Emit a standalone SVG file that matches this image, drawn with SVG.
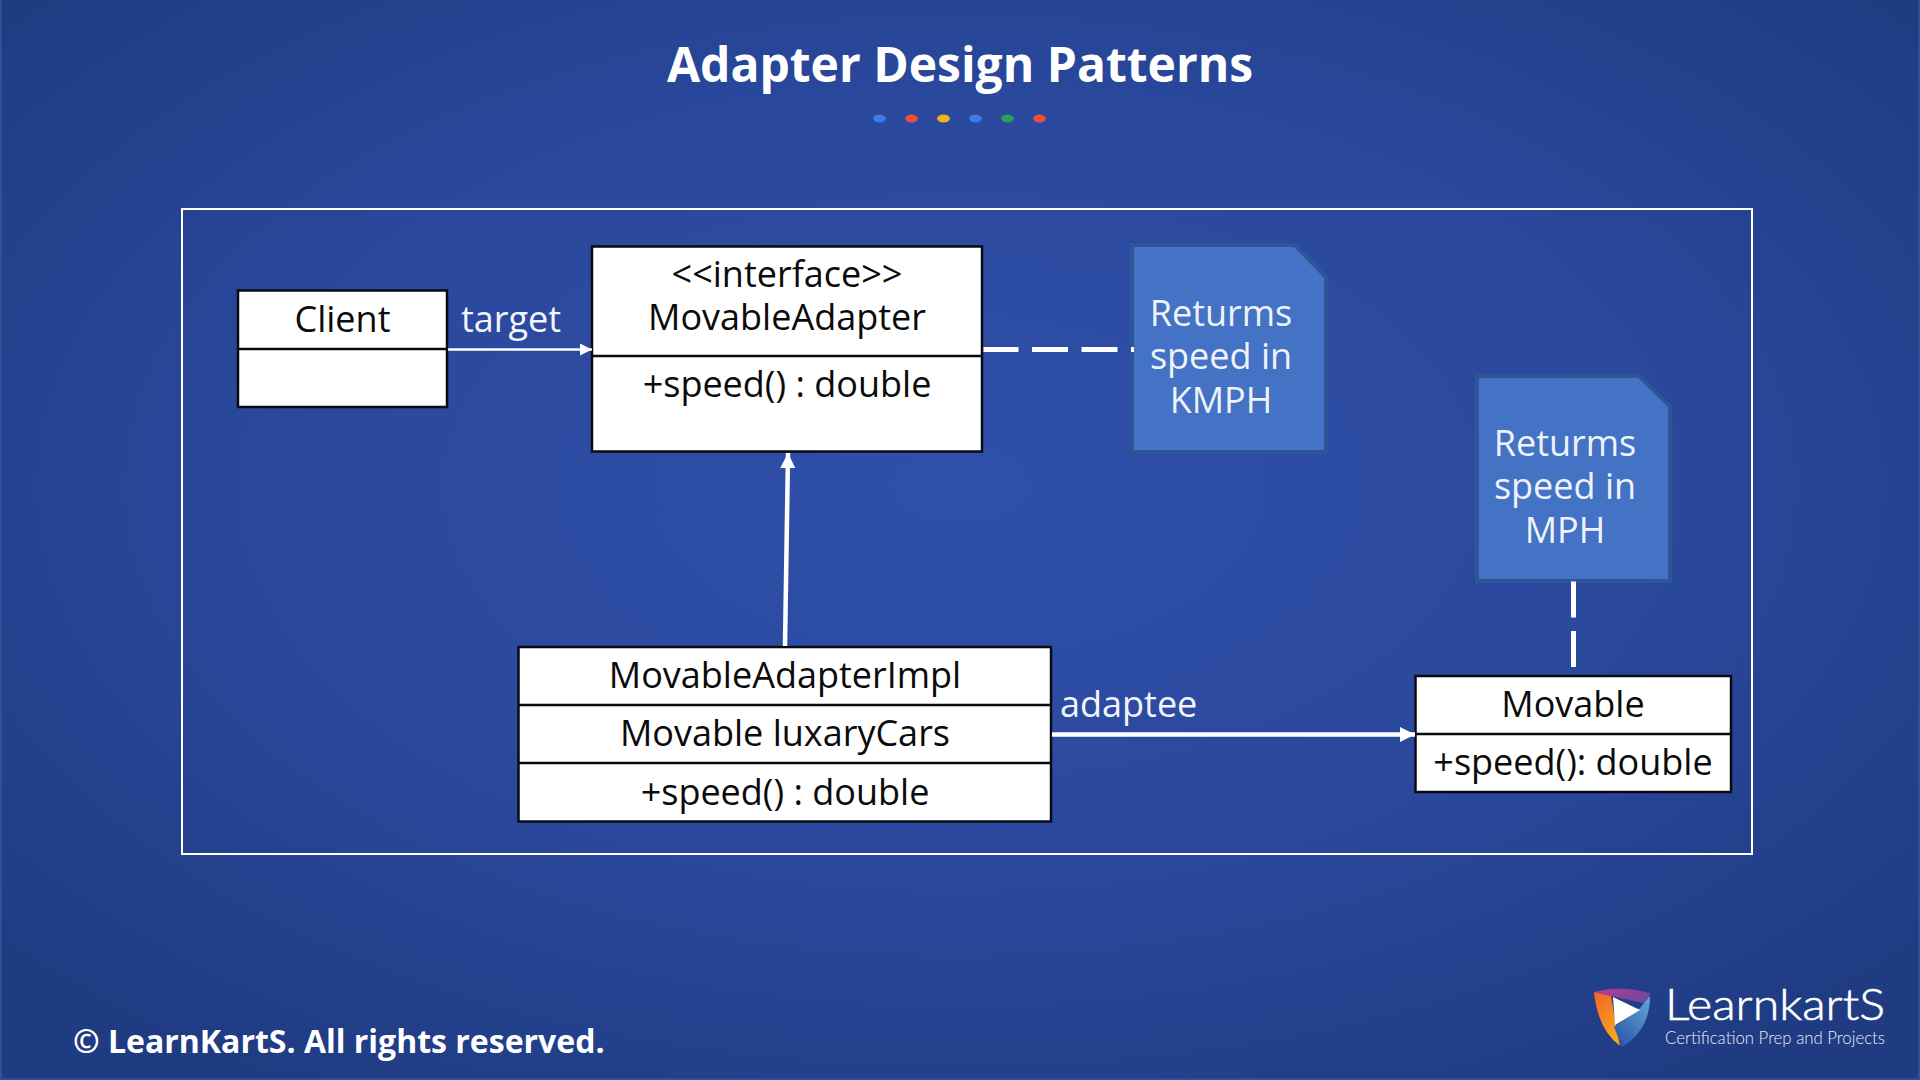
<svg xmlns="http://www.w3.org/2000/svg" width="1920" height="1080" viewBox="0 0 1920 1080">
<style>
text{font-family:"Open Sans","Noto Sans",sans-serif}
.b{fill:#fff;stroke:#0a0a14;stroke-width:2.5}
.d{stroke:#0a0a14;stroke-width:2.5;fill:none}
.t{font-size:36px;fill:#0b0b0b;text-anchor:middle}
.w{font-size:36px;fill:#f2f6fc}
.n{fill:#4472c4;stroke:#2f5597;stroke-width:4}
.m{font-size:36px;fill:#eef3fb;text-anchor:middle}
.c{stroke:#fff;fill:none}
</style>
<defs>
<radialGradient id="bg" cx="50%" cy="45%" r="66%"><stop offset="0" stop-color="#2f4fa9"/><stop offset="0.55" stop-color="#2a489c"/><stop offset="1" stop-color="#1f3b82"/></radialGradient>
<marker id="a1" markerUnits="userSpaceOnUse" markerWidth="12" markerHeight="12" refX="12" refY="6" orient="auto"><path d="M0 0L12 6L0 12z" fill="#fff"/></marker>
<marker id="a2" markerUnits="userSpaceOnUse" markerWidth="15" markerHeight="15" refX="15" refY="7.5" orient="auto"><path d="M0 0L15 7.5L0 15z" fill="#fff"/></marker>
<linearGradient id="s1" x1="0" y1="0" x2="1" y2="0.5"><stop offset="0" stop-color="#c2378f"/><stop offset="1" stop-color="#6d4a9e"/></linearGradient>
<linearGradient id="s2" x1="0" y1="0" x2="0.4" y2="1"><stop offset="0" stop-color="#f2622a"/><stop offset="1" stop-color="#f9a51f"/></linearGradient>
<linearGradient id="s3" x1="1" y1="0" x2="0.2" y2="1"><stop offset="0" stop-color="#62a9d8"/><stop offset="1" stop-color="#2c57a8"/></linearGradient>
</defs>
<rect width="1920" height="1080" fill="url(#bg)"/>
<path d="M1 0V1079H1919V0" fill="none" stroke="#2a5298" stroke-width="2"/>
<g id="title"><text x="960" y="82" text-anchor="middle" font-size="48" font-weight="700" fill="#fff">Adapter Design Patterns</text>
<ellipse cx="879.500" cy="118.500" rx="6.500" ry="4" fill="#3a7bf0"/><ellipse cx="911.500" cy="118.500" rx="6.500" ry="4" fill="#e9503f"/><ellipse cx="943.500" cy="118.500" rx="6.500" ry="4" fill="#f4b020"/><ellipse cx="975.500" cy="118.500" rx="6.500" ry="4" fill="#3a7bf0"/><ellipse cx="1007.500" cy="118.500" rx="6.500" ry="4" fill="#2f9e57"/><ellipse cx="1039.500" cy="118.500" rx="6.500" ry="4" fill="#e9503f"/></g>
<rect id="frame" x="182" y="209" width="1570" height="645" fill="none" stroke="#fff" stroke-width="2"/>
<g id="client"><rect class="b" x="238" y="290.500" width="209" height="116.500"/><path class="d" d="M238 349H447"/><text class="t" x="342.500" y="332">Client</text></g>
<text id="label-target" class="w" x="461" y="332">target</text>
<g id="movable-adapter"><rect class="b" x="592" y="246.500" width="390" height="205"/><path class="d" d="M592 356H982"/><text class="t" x="787" y="287">&lt;&lt;interface&gt;&gt;</text><text class="t" x="787" y="330">MovableAdapter</text><text class="t" x="787" y="397">+speed() : double</text></g>
<g id="note-kmph"><path class="n" d="M1132 245H1295L1326 277V452H1132z"/><text class="m" x="1221" y="325.500">Returms</text><text class="m" x="1221" y="368.500">speed in</text><text class="m" x="1221" y="412.500">KMPH</text></g>
<g id="note-mph"><path class="n" d="M1477 376H1639L1670 406V581H1477z"/><text class="m" x="1565" y="455.500">Returms</text><text class="m" x="1565" y="498.500">speed in</text><text class="m" x="1565" y="542.500">MPH</text></g>
<g id="impl"><rect class="b" x="518.500" y="647" width="532.500" height="174.500"/><path class="d" d="M518.500 705H1051M518.500 763H1051"/><text class="t" x="785" y="688">MovableAdapterImpl</text><text class="t" x="785" y="746">Movable luxaryCars</text><text class="t" x="785" y="805">+speed() : double</text></g>
<text id="label-adaptee" class="w" x="1060" y="717">adaptee</text>
<g id="movable"><rect class="b" x="1415.500" y="676" width="315.500" height="116"/><path class="d" d="M1415.500 734H1731"/><text class="t" x="1573" y="717">Movable</text><text class="t" x="1573" y="775">+speed(): double</text></g>
<g id="connectors">
<path class="c" d="M448 349.500H592" stroke-width="2.500" marker-end="url(#a1)"/>
<path class="c" d="M785 646L788 453" stroke-width="4.500" marker-end="url(#a2)"/>
<path class="c" d="M1052 734.500H1415" stroke-width="4.500" marker-end="url(#a2)"/>
<path class="c" d="M983.500 349.500H1134" stroke-width="5" stroke-dasharray="35 13.500 36 13.500 36 13.500"/>
<path class="c" d="M1573.500 581.500V667" stroke-width="5" stroke-dasharray="36 13.500"/>
</g>
<text id="copyright" x="73" y="1053" font-size="32" font-weight="700" fill="#fff">© LearnKartS. All rights reserved.</text>
<g id="logo">
<path d="M1594 992Q1620 985 1650 993L1647 1004L1611 996Z" fill="url(#s1)"/>
<path d="M1594 992L1611 996L1616 1026L1620 1046Q1598 1030 1594 992Z" fill="url(#s2)"/>
<path d="M1650 996Q1650 1030 1622 1047L1614 1027L1640 1008Z" fill="url(#s3)"/>
<path d="M1613 997L1640 1010L1615 1025Z" fill="#fff"/>
<text x="1665" y="1020" font-size="44" font-weight="300" fill="#fff" stroke="#fff" stroke-width="0.6" style="font-family:Lato,sans-serif" textLength="220" lengthAdjust="spacingAndGlyphs">LearnkartS</text>
<text x="1665" y="1044" font-size="17" font-weight="300" fill="#e8eef8" style="font-family:Lato,sans-serif" textLength="220" lengthAdjust="spacingAndGlyphs">Certification Prep and Projects</text>
</g>
</svg>
